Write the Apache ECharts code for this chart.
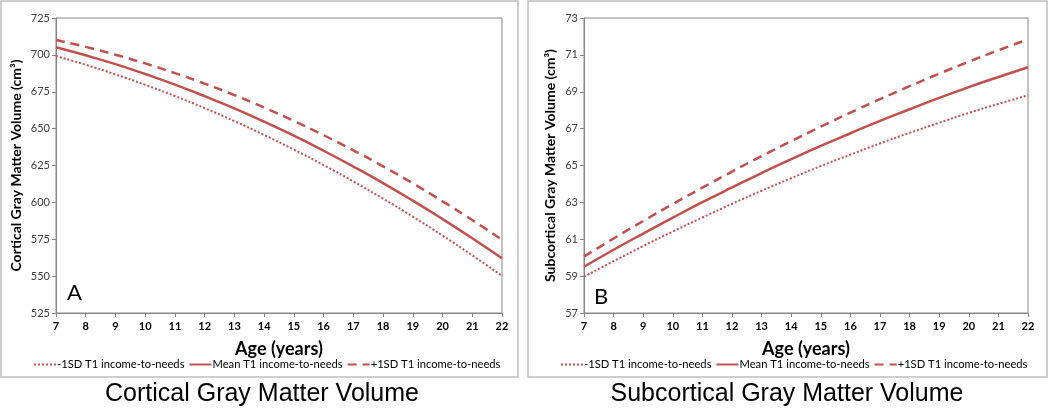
<!DOCTYPE html>
<html><head><meta charset="utf-8">
<script src="https://cdn.jsdelivr.net/npm/echarts@6/dist/echarts.min.js"></script>
<style>html,body{margin:0;padding:0;background:#fff}#c{width:1050px;height:412px}</style>
</head><body><div id="c"></div>
<script>
const ages = [7,8,9,10,11,12,13,14,15,16,17,18,19,20,21,22];
const seriesNames = ['-1SD T1 income-to-needs','Mean T1 income-to-needs','+1SD T1 income-to-needs'];
const corticalLow  = [699.2,693.3,686.8,679.7,672.1,663.9,655.1,645.7,635.8,625.3,614.2,602.5,590.3,577.5,564.1,550.2];
const corticalMean = [705.2,699.7,693.7,687.0,679.8,672.0,663.7,654.7,645.2,635.0,624.3,613.1,601.2,588.7,575.7,562.1];
const corticalHigh = [710.1,705.4,700.1,694.2,687.6,680.5,672.7,664.3,655.2,645.6,635.3,624.4,612.9,600.7,588.0,574.6];
const subLow  = [58.97,59.81,60.63,61.42,62.18,62.92,63.63,64.31,64.97,65.59,66.20,66.77,67.32,67.85,68.34,68.81];
const subMean = [59.51,60.43,61.31,62.17,63.01,63.81,64.59,65.34,66.06,66.75,67.42,68.05,68.67,69.25,69.80,70.33];
const subHigh = [60.06,61.04,61.99,62.91,63.80,64.67,65.51,66.32,67.11,67.87,68.60,69.30,69.98,70.63,71.25,71.84];
const corticalTicks = [525,725,25];
const subTicks = [57,73,2];
const panelTitles = ['Cortical Gray Matter Volume','Subcortical Gray Matter Volume'];
const yTitles = ['Cortical Gray Matter Volume (cm³)','Subcortical Gray Matter Volume (cm³)'];
const panelLetters = ['A','B'];

const RED = '#C0504D';
const lineStyles = [
  {type:[2,2], width:2},
  {type:'solid', width:2.5},
  {type:[9,6], width:2.5}
];
function mk(name, vals, gi, si){
  return {
    name, type:'line', xAxisIndex:gi, yAxisIndex:gi, showSymbol:false, symbol:'none',
    smooth:true, data: ages.map((a,i)=>[a, vals[i]]),
    lineStyle:Object.assign({color:RED}, lineStyles[si]), itemStyle:{color:RED},
    animation:false
  };
}
const font = 'Lato, "Open Sans", sans-serif';
function xAx(gi){
  return {gridIndex:gi, type:'value', min:7, max:22, interval:1,
    name:'Age (years)', nameLocation:'middle', nameGap:27,
    nameTextStyle:{fontFamily:font, fontWeight:'bold', fontSize:18, color:'#000'},
    axisLine:{lineStyle:{color:'#868686', width:1}},
    axisTick:{show:true, length:4, lineStyle:{color:'#868686'}},
    axisLabel:{fontFamily:font, fontWeight:'bold', fontSize:11, color:'#000', margin:8},
    splitLine:{show:false}};
}
function yAx(gi, t, gap){
  return {gridIndex:gi, type:'value', min:t[0], max:t[1], interval:t[2],
    name:yTitles[gi], nameLocation:'middle', nameGap:gap, nameRotate:90,
    nameTextStyle:{fontFamily:font, fontWeight:'bold', fontSize:14, color:'#000'},
    axisLine:{show:true, lineStyle:{color:'#868686', width:1}},
    axisTick:{show:true, length:4, lineStyle:{color:'#868686'}},
    axisLabel:{fontFamily:font, fontSize:11, color:'#404040', margin:6},
    splitLine:{show:false}};
}
function legend(left){
  return {left, top:354, width:490, itemWidth:22, itemHeight:10, itemGap:4, data:seriesNames,
    itemStyle:{opacity:0, color:'rgba(0,0,0,0)', borderWidth:0},
    textStyle:{fontFamily:font, fontSize:11.2, color:'#000', padding:[0,0,0,-4]}, selectedMode:false};
}
const chart = echarts.init(document.getElementById('c'), null, {renderer:'canvas'});
chart.setOption({
  animation:false,
  backgroundColor:'#fff',
  grid:[
    {left:56, right:548, top:18, bottom:99, show:true, borderColor:'#868686', borderWidth:1},
    {left:584, right:22, top:18, bottom:99, show:true, borderColor:'#868686', borderWidth:1}
  ],
  xAxis:[xAx(0), xAx(1)],
  yAxis:[yAx(0, corticalTicks, 33), yAx(1, subTicks, 27)],
  legend:[legend(28), legend(555)],
  series:[
    mk(seriesNames[0], corticalLow, 0, 0),
    mk(seriesNames[1], corticalMean, 0, 1),
    mk(seriesNames[2], corticalHigh, 0, 2),
    mk(seriesNames[0], subLow, 1, 0),
    mk(seriesNames[1], subMean, 1, 1),
    mk(seriesNames[2], subHigh, 1, 2)
  ],
  graphic:[
    {type:'rect', shape:{x:1, y:1, width:517, height:376}, style:{fill:'none', stroke:'#BFBFBF', lineWidth:1.5}, silent:true, z:-1},
    {type:'rect', shape:{x:528, y:1, width:519, height:376}, style:{fill:'none', stroke:'#BFBFBF', lineWidth:1.5}, silent:true, z:-1},
    {type:'text', left:67, top:282, style:{text:panelLetters[0], font:'22px Lato, "Open Sans", sans-serif', fill:'#000'}},
    {type:'text', left:594, top:286, style:{text:panelLetters[1], font:'22px Lato, "Open Sans", sans-serif', fill:'#000'}},
    {type:'text', x:262, y:394, style:{text:panelTitles[0], font:'25px "Liberation Sans", Arial, sans-serif', fill:'#000', textAlign:'center', textVerticalAlign:'middle'}},
    {type:'text', x:787, y:394, style:{text:panelTitles[1], font:'25px "Liberation Sans", Arial, sans-serif', fill:'#000', textAlign:'center', textVerticalAlign:'middle'}}
  ]
});
</script></body></html>
